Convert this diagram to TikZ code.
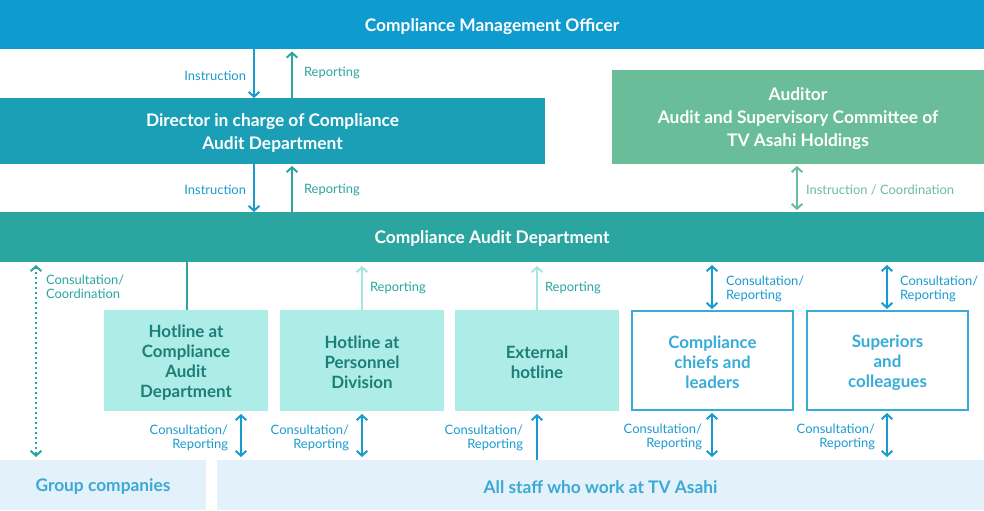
\documentclass[tikz,border=0pt]{standalone}
\usepackage{fontspec}
\setmainfont{Lato}
\usetikzlibrary{arrows.meta, positioning, calc}
\definecolor{cmoFill}{HTML}{0E9BCF}
\definecolor{dirFill}{HTML}{1A9FB6}
\definecolor{cadFill}{HTML}{2AA59F}
\definecolor{audFill}{HTML}{69BD98}
\definecolor{hotFill}{HTML}{AEECE7}
\definecolor{hotText}{HTML}{1C7F77}
\definecolor{hotArrow}{HTML}{A5E6E0}
\definecolor{peerLine}{HTML}{36ACD8}
\definecolor{baseFill}{HTML}{E3F2FA}
\definecolor{baseText}{HTML}{3CA8D6}
\definecolor{instrBlue}{HTML}{1A9BCF}
\definecolor{repTeal}{HTML}{2AA59F}
\newcommand{\boxstrut}{\rule{0pt}{12.6pt}}

\begin{document}
\begin{tikzpicture}[
  x=0.75pt, y=-0.75pt,
  >={Straight Barb[length=3.6pt, width=8pt]},
  box/.style    ={inner sep=0pt, outer sep=0pt, align=center,
                  font=\bfseries\fontsize{13}{17.25}\selectfont},
  bar/.style    ={box, text=white, minimum width=984*0.75pt, minimum height=49.5*0.75pt},
  hot/.style    ={box, fill=hotFill, text=hotText, minimum width=164*0.75pt,
                  minimum height=101*0.75pt, font=\bfseries\fontsize{12.7}{15}\selectfont},
  peer/.style   ={box, draw=peerLine, line width=1.5pt, text=peerLine, fill=white,
                  minimum width=161*0.75pt, minimum height=99*0.75pt,
                  font=\bfseries\fontsize{12.7}{15}\selectfont},
  base/.style   ={box, fill=baseFill, text=baseText, minimum height=50*0.75pt},
  lbl/.style    ={inner sep=0pt, yshift=-1.5pt, font=\fontsize{9.7}{10.5}\selectfont},
  instr/.style  ={draw=instrBlue, line width=1.5pt},
  rep/.style    ={draw=repTeal, line width=1.5pt},
  coord/.style  ={draw=audFill, line width=1.5pt},
  hotrep/.style ={draw=hotArrow, line width=1.5pt},
  dots/.style   ={draw=repTeal, line width=1.5pt, dash pattern=on 1.5pt off 2.25pt},
]
\useasboundingbox (0,0) rectangle (984,510);

% ----- Boxes -----
\node[bar, fill=cmoFill] (CMO) at (492,24.75) {\boxstrut Compliance Management Officer};

\node[box, fill=dirFill, text=white, minimum width=545*0.75pt, minimum height=66*0.75pt]
  (DIR) at (272.5,131) {\boxstrut Director in charge of Compliance\\Audit Department};

\node[box, fill=audFill, text=white, minimum width=372*0.75pt, minimum height=94*0.75pt]
  (AUD) at (798,117) {\boxstrut Auditor\\Audit and Supervisory Committee of\\TV Asahi Holdings};

\node[bar, fill=cadFill, minimum height=50*0.75pt] (CAD) at (492,237) {\boxstrut Compliance Audit Department};

\node[hot]  (HL1) at (186,360.5) {\boxstrut Hotline at\\Compliance\\Audit\\Department};
\node[hot]  (HL2) at (362,360.5) {\boxstrut Hotline at\\Personnel\\Division};
\node[hot]  (HL3) at (537,360.5) {\boxstrut External\\hotline};
\node[peer] (CHF) at (712.5,360.5) {\boxstrut Compliance\\chiefs and\\leaders};
\node[peer] (SUP) at (887.5,360.5) {\boxstrut Superiors\\and\\colleagues};

\node[base, minimum width=206*0.75pt] (GRP) at (103,485) {\boxstrut Group companies};
\node[base, minimum width=767*0.75pt] (STF) at (600.5,485) {\boxstrut All staff who work at TV Asahi};

% ----- Officer / director / department -----
\draw[instr, ->] (CMO.south -| 254,0) -- node[lbl, text=instrBlue, anchor=east, xshift=-5.25pt, pos=0.5] {Instruction} (DIR.north -| 254,0);
\draw[rep, ->, shorten >=1.5pt] (DIR.north -| 292,0) -- node[lbl, text=repTeal, anchor=west, xshift=8.25pt, pos=0.55] {Reporting} (CMO.south -| 292,0);
\draw[instr, ->] (DIR.south -| 254,0) -- node[lbl, text=instrBlue, anchor=east, xshift=-5.25pt] {Instruction} (CAD.north -| 254,0);
\draw[rep, ->, shorten >=1.5pt] (CAD.north -| 292,0) -- node[lbl, text=repTeal, anchor=west, xshift=8.25pt] {Reporting} (DIR.south -| 292,0);
\draw[coord, <->, shorten <=1.5pt, shorten >=1.5pt] (AUD.south -| 797,0) -- node[lbl, text=audFill, anchor=west, xshift=6pt] {Instruction / Coordination} (CAD.north -| 797,0);

% ----- Department to hotlines and staff -----
\draw[dots, <->, shorten <=2.25pt, shorten >=2.25pt] (CAD.south -| 36,0) -- node[lbl, text=repTeal, align=left, anchor=north west, xshift=6.75pt, pos=0.05] {Consultation/\\Coordination} (GRP.north -| 36,0);
\draw[draw=repTeal, line width=1.2pt] (CAD.south -| 187,0) -- (HL1.north -| 187,0);
\draw[hotrep, ->, shorten >=3pt] (HL2.north) -- node[lbl, text=repTeal, anchor=west, xshift=5.25pt] {Reporting} (CAD.south -| HL2.north);
\draw[hotrep, ->, shorten >=3pt] (HL3.north) -- node[lbl, text=repTeal, anchor=west, xshift=5.25pt] {Reporting} (CAD.south -| HL3.north);
\draw[instr, <->, shorten <=2.25pt, shorten >=1.5pt] (CAD.south -| 712,0) -- node[lbl, text=instrBlue, align=left, anchor=west, xshift=9.75pt] {Consultation/\\Reporting} (CHF.north -| 712,0);
\draw[instr, <->, shorten <=2.25pt, shorten >=1.5pt] (CAD.south -| 887,0) -- node[lbl, text=instrBlue, align=left, anchor=west, xshift=9pt] {Consultation/\\Reporting} (SUP.north -| 887,0);

% ----- Staff to hotlines -----
\draw[instr, <->, shorten <=2.25pt, shorten >=2.25pt] (HL1.south -| 241,0) -- node[lbl, text=instrBlue, align=right, anchor=east, xshift=-9pt] {Consultation/\\Reporting} (STF.north -| 241,0);
\draw[instr, <->, shorten <=2.25pt, shorten >=2.25pt] (HL2.south) -- node[lbl, text=instrBlue, align=right, anchor=east, xshift=-9pt] {Consultation/\\Reporting} (STF.north -| HL2.south);
\draw[instr, ->, shorten >=2.25pt] (STF.north -| HL3.south) -- node[lbl, text=instrBlue, align=right, anchor=east, xshift=-9.75pt] {Consultation/\\Reporting} (HL3.south);
\draw[instr, <->, shorten <=2.25pt, shorten >=2.25pt] (CHF.south -| 712,0) -- node[lbl, text=instrBlue, align=right, anchor=east, xshift=-6.75pt] {Consultation/\\Reporting} (STF.north -| 712,0);
\draw[instr, <->, shorten <=2.25pt, shorten >=2.25pt] (SUP.south -| 887,0) -- node[lbl, text=instrBlue, align=right, anchor=east, xshift=-8.25pt] {Consultation/\\Reporting} (STF.north -| 887,0);

\end{tikzpicture}
\end{document}
